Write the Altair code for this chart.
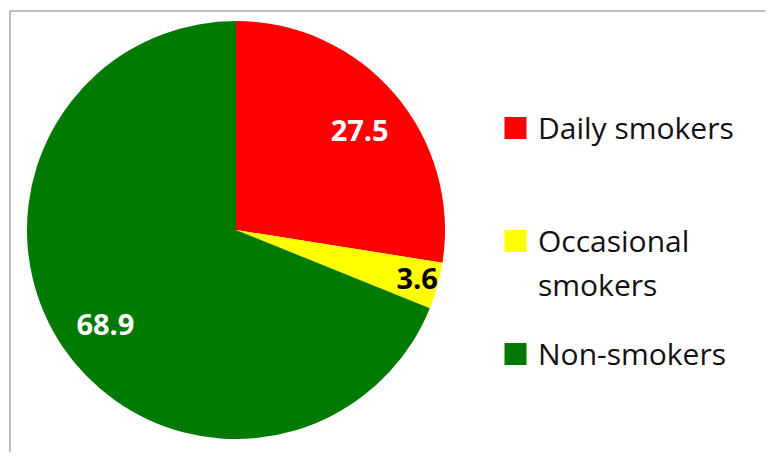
import altair as alt
import pandas as pd

categories = ["Daily smokers", "Occasional smokers", "Non-smokers"]
legend_labels = ["Daily smokers", "Occasional\nsmokers", "Non-smokers"]
values = [27.5, 3.6, 68.9]
colors = ["#ff0000", "#ffff00", "#007a00"]

df = pd.DataFrame({
    "category": categories,
    "legend_label": legend_labels,
    "value": values,
    "idx": list(range(len(categories))),
})

CX, CY, R = 226, 219, 209
color = alt.Color("category:N", scale=alt.Scale(domain=categories, range=colors), legend=None)
theta = alt.Theta("value:Q", stack=True)
order = alt.Order("idx:Q")

base = alt.Chart(df)

pie = base.mark_arc(outerRadius=R).encode(
    theta=theta, color=color, order=order,
    x=alt.value(CX), y=alt.value(CY),
)

big_labels = base.mark_text(
    radius=160, dy=6, dx=2, font="Open Sans", fontWeight="bold", fontSize=29, fill="white"
).encode(
    theta=theta, order=order, text=alt.Text("value:Q", format=".1f"),
    x=alt.value(CX), y=alt.value(CY),
    opacity=alt.condition("datum.value > 10", alt.value(1), alt.value(0)),
)

small_labels = base.mark_text(
    radius=188, font="Open Sans", fontWeight="bold", fontSize=29, fill="black"
).encode(
    theta=theta, order=order, text=alt.Text("value:Q", format=".1f"),
    x=alt.value(CX), y=alt.value(CY),
    opacity=alt.condition("datum.value <= 10", alt.value(1), alt.value(0)),
)

ypos = alt.Y("category:N", axis=None,
             scale=alt.Scale(type="point", domain=categories, range=[117, 343], padding=0))

leg_sq = base.mark_square(size=484, opacity=1).encode(
    x=alt.value(505.5), y=ypos, color=color,
)

leg_txt = base.mark_text(
    align="left", baseline="alphabetic", dy=10.5, font="Open Sans", fontSize=30,
    lineBreak="\n", lineHeight=44, color="#111111"
).encode(
    x=alt.value(528), y=ypos, text="legend_label:N",
)

frame_left = base.mark_rule(color="#bdbdbd", strokeWidth=2).encode(
    x=alt.value(0), y=alt.value(0), y2=alt.value(460),
)
frame_top = base.mark_rule(color="#bdbdbd", strokeWidth=2).encode(
    x=alt.value(0), x2=alt.value(800), y=alt.value(0),
)

chart = alt.layer(pie, big_labels, small_labels, leg_sq, leg_txt, frame_left, frame_top).properties(
    width=755, height=441,
    padding={"left": 2, "top": 3, "right": 0, "bottom": 0},
    autosize=alt.AutoSizeParams(type="none"),
).configure_view(stroke=None)

chart.save("out.html", embed_options={"renderer": "svg", "actions": False})
